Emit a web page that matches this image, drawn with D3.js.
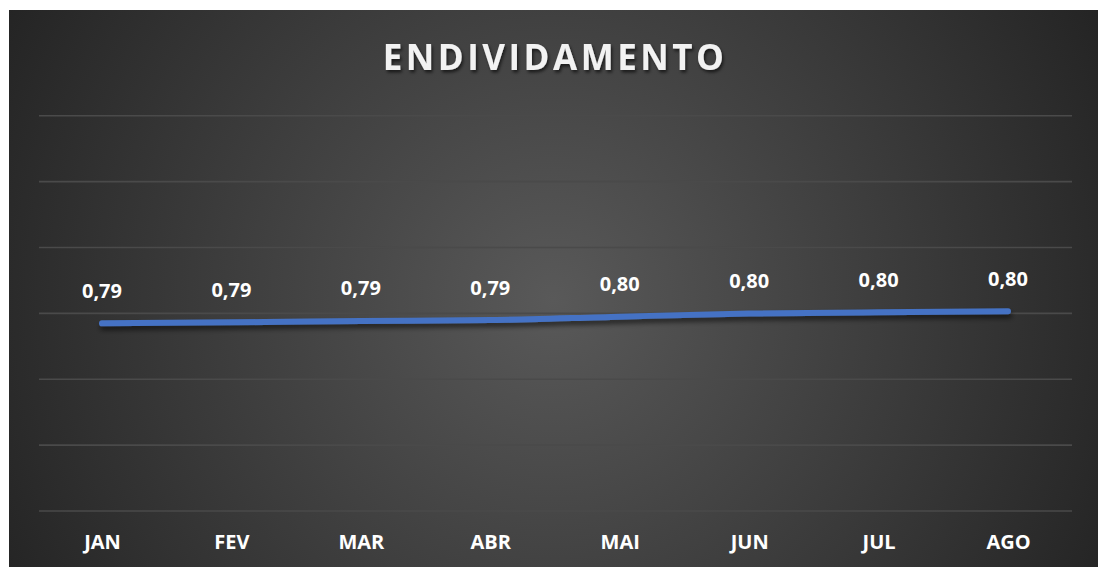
<!DOCTYPE html>
<html>
<head>
<meta charset="utf-8">
<script src="https://cdn.jsdelivr.net/npm/d3@7"></script>
<style>
  body { margin: 0; background: #fff; }
  svg { display: block; }
</style>
</head>
<body>
<div id="chart"></div>
<script>
// data
var meses = ['JAN', 'FEV', 'MAR', 'ABR', 'MAI', 'JUN', 'JUL', 'AGO'];
var endividamento = [0.7924, 0.7932, 0.7942, 0.7949, 0.7975, 0.7998, 0.8008, 0.8016];
var yTicks = [0.65, 0.70, 0.75, 0.80, 0.85, 0.90, 0.95];
var titulo = 'ENDIVIDAMENTO';

var W = 1098, H = 567;
var svg = d3.select('#chart').append('svg')
  .attr('width', W)
  .attr('height', H);

var defs = svg.append('defs');
var grad = defs.append('radialGradient')
  .attr('id', 'bg')
  .attr('gradientUnits', 'userSpaceOnUse')
  .attr('cx', 553).attr('cy', 300).attr('r', 620);
grad.append('stop').attr('offset', '0%').attr('stop-color', '#595959');
grad.append('stop').attr('offset', '100%').attr('stop-color', '#242424');

var shadow = defs.append('filter').attr('id', 'shadow')
  .attr('x', '-10%').attr('y', '-50%').attr('width', '120%').attr('height', '200%');
shadow.append('feDropShadow')
  .attr('dx', 1.5).attr('dy', 2.5).attr('stdDeviation', 1.5)
  .attr('flood-color', '#000').attr('flood-opacity', 0.6);

var lineShadow = defs.append('filter').attr('id', 'lshadow')
  .attr('x', '-5%').attr('y', '-100%').attr('width', '110%').attr('height', '300%');
lineShadow.append('feDropShadow')
  .attr('dx', 1).attr('dy', 4).attr('stdDeviation', 2.5)
  .attr('flood-color', '#000').attr('flood-opacity', 0.55);

// chart area
svg.append('rect')
  .attr('x', 9).attr('y', 10)
  .attr('width', W - 9).attr('height', H - 10)
  .attr('fill', 'url(#bg)');

var x = d3.scalePoint()
  .domain(meses)
  .range([102, 1008]);

var y = d3.scaleLinear()
  .domain([0.65, 0.95])
  .range([511, 115.7]);

// gridlines
svg.append('g')
  .selectAll('line')
  .data(yTicks)
  .enter().append('line')
  .attr('x1', 39).attr('x2', 1072)
  .attr('y1', function(d) { return y(d); })
  .attr('y2', function(d) { return y(d); })
  .attr('stroke', '#4a4a4a')
  .attr('stroke-width', 1.6);

// x axis labels
var xAxis = svg.append('g')
  .attr('transform', 'translate(0,511)')
  .call(d3.axisBottom(x).tickSize(0).tickPadding(0));
xAxis.select('.domain').remove();
xAxis.selectAll('text')
  .attr('dy', null)
  .attr('y', 38)
  .attr('fill', '#ffffff')
  .style('font-family', '"Open Sans", sans-serif')
  .style('font-weight', 'bold')
  .style('font-size', '20px');

// line
var line = d3.line()
  .x(function(d, i) { return x(meses[i]); })
  .y(function(d) { return y(d); })
  .curve(d3.curveMonotoneX);

svg.append('path')
  .datum(endividamento)
  .attr('d', line)
  .attr('fill', 'none')
  .attr('stroke', '#4472c4')
  .attr('stroke-width', 6)
  .attr('stroke-linecap', 'round')
  .attr('stroke-linejoin', 'round')
  .attr('filter', 'url(#lshadow)');

// data labels
var fmt = d3.format('.2f');
svg.append('g')
  .selectAll('text')
  .data(endividamento)
  .enter().append('text')
  .attr('x', function(d, i) { return x(meses[i]); })
  .attr('y', function(d) { return y(d) - 25.5; })
  .attr('text-anchor', 'middle')
  .attr('fill', '#ffffff')
  .style('font-family', '"Open Sans", sans-serif')
  .style('font-weight', 'bold')
  .style('font-size', '20px')
  .text(function(d) { return fmt(d).replace('.', ','); });

// title
svg.append('text')
  .attr('x', 555)
  .attr('y', 69.5)
  .attr('text-anchor', 'middle')
  .attr('fill', '#f2f2f2')
  .attr('filter', 'url(#shadow)')
  .style('font-family', '"Open Sans", sans-serif')
  .style('font-weight', 'bold')
  .style('font-size', '35px')
  .style('letter-spacing', '3.5px')
  .text(titulo);
</script>
</body>
</html>
